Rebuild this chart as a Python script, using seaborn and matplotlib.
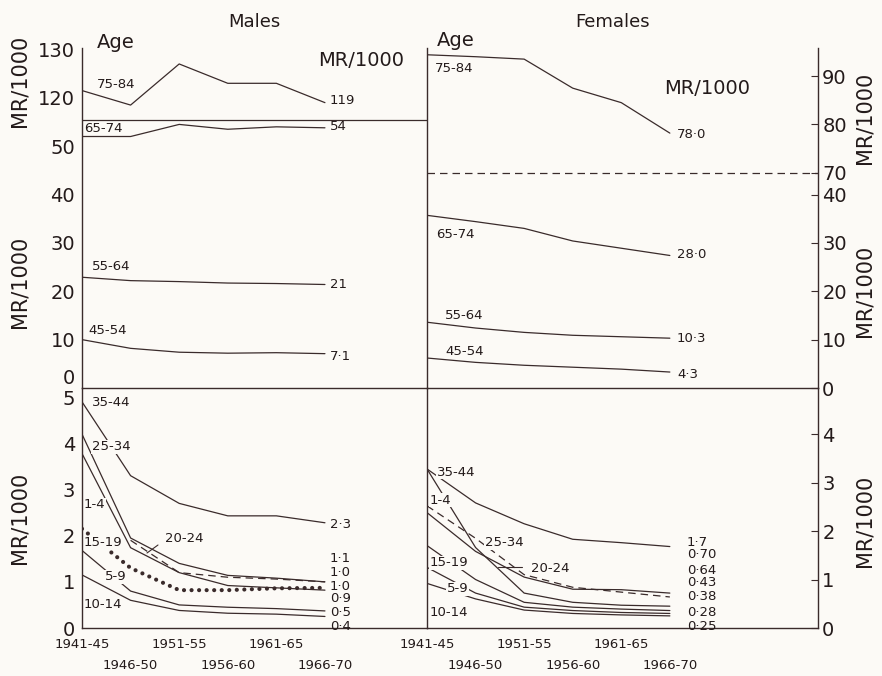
import numpy as np
import pandas as pd
import matplotlib.pyplot as plt
import seaborn as sns

# periods on the x axis
periods = ['1941-45', '1946-50', '1951-55', '1956-60', '1961-65', '1966-70']

# males, older ages (MR/1000)
m_75_84 = [121.5, 118.5, 127.0, 123.0, 123.0, 119.0]
m_65_74 = [52.0, 52.0, 54.5, 53.5, 54.0, 53.8]
m_55_64 = [22.9, 22.2, 22.0, 21.7, 21.6, 21.4]
m_45_54 = [10.0, 8.2, 7.4, 7.2, 7.3, 7.1]

# males, younger ages
m_35_44 = [4.9, 3.3, 2.7, 2.43, 2.43, 2.28]
m_25_34 = [4.2, 1.95, 1.4, 1.14, 1.08, 1.0]
m_20_24 = [np.nan, 1.9, 1.2, 1.1, 1.06, 1.0]
m_1_4 = [3.78, 1.74, 1.2, 0.92, 0.87, 0.82]
m_15_19 = [2.15, 1.3, 0.82, 0.82, 0.86, 0.87]
m_5_9 = [1.68, 0.8, 0.5, 0.45, 0.42, 0.37]
m_10_14 = [1.15, 0.6, 0.38, 0.32, 0.3, 0.25]

# females, older ages
f_75_84 = [94.4, 94.0, 93.5, 87.5, 84.5, 78.2]
f_65_74 = [35.7, 34.4, 33.0, 30.4, 28.9, 27.4]
f_55_64 = [13.6, 12.4, 11.5, 10.9, 10.6, 10.3]
f_45_54 = [6.2, 5.3, 4.7, 4.3, 3.9, 3.3]

# females, younger ages
f_35_44 = [3.28, 2.58, 2.15, 1.83, 1.76, 1.68]
f_25_34 = [2.38, 1.58, 1.05, 0.80, 0.79, 0.72]
f_20_24 = [2.52, 1.85, 1.10, 0.84, 0.74, 0.64]
f_1_4 = [3.28, 1.66, 0.72, 0.53, 0.47, 0.45]
f_15_19 = [1.70, 1.00, 0.53, 0.43, 0.39, 0.36]
f_5_9 = [1.25, 0.72, 0.43, 0.36, 0.32, 0.30]
f_10_14 = [0.92, 0.60, 0.37, 0.30, 0.27, 0.25]

# end-of-line values as printed
m_old_end = ['119', '54', '21', '7·1']
f_old_end = ['78·0', '28·0', '10·3', '4·3']
m_young_end = ['2·3', '1·1', '1·0', '1·0', '0·9', '0·5', '0·4']
f_young_end = ['1·7', '0·70', '0·64', '0·43', '0·38', '0·28', '0·25']

# broken scales in the upper panels
m_break, m_shift = 55.5, 60.0
f_break, f_shift = 44.5, 25.5

ink = '#3a2b2b'
bg = '#fcfaf6'

sns.set_style('white')
plt.rcParams['font.family'] = ['DejaVu Sans']
plt.rcParams['axes.edgecolor'] = ink
plt.rcParams['text.color'] = '#231a1a'
plt.rcParams['xtick.color'] = ink
plt.rcParams['ytick.color'] = ink
plt.rcParams['xtick.labelcolor'] = '#231a1a'
plt.rcParams['ytick.labelcolor'] = '#231a1a'

W, H = 882, 676


def frame(series, brk=None, shift=0.0):
    rows = []
    for age, vals in series:
        for t, v in enumerate(vals):
            rows.append({'age': age, 't': t, 'rate': v})
    df = pd.DataFrame(rows).dropna()
    df['y'] = df['rate']
    if brk is not None:
        df['y'] = np.where(df['rate'] > brk, df['rate'] - shift, df['rate'])
    return df


def draw(ax, df, styles={}):
    for age, grp in df.groupby('age', sort=False):
        sns.lineplot(data=grp, x='t', y='y', ax=ax, color=ink, lw=0.9)
        ln = ax.lines[-1]
        st = styles.get(age)
        if st == 'dash':
            ln.set_dashes([6, 4])
        elif st == 'dot':
            ln.set_linewidth(3.0)
            ln.set_dashes([0.01, 1.8])
            ln.set_dash_capstyle('round')
    ax.set_xlabel('')
    ax.set_ylabel('')


def box(x0, y0, x1, y1):
    return [x0 / W, 1 - y1 / H, (x1 - x0) / W, (y1 - y0) / H]


def put(x, y, s, size=9.5, ax=None, **kw):
    kw.setdefault('ha', 'left')
    kw.setdefault('va', 'center')
    if ax is None:
        fig.text(x / W, 1 - y / H, s, fontsize=size, **kw)
    else:
        # label sits on its line and breaks it; spines stay on top
        ax.text(x / W, 1 - y / H, s, fontsize=size, transform=fig.transFigure, zorder=2.4,
                bbox=dict(facecolor=bg, edgecolor='none', pad=0.4), **kw)


def leader(x0, y0, x1, y1):
    fig.add_artist(plt.Line2D([x0 / W, x1 / W], [1 - y0 / H, 1 - y1 / H], color=ink, lw=0.8))


fig = plt.figure(figsize=(8.82, 6.76), dpi=100, facecolor=bg)
ax_mu = fig.add_axes(box(82, 48, 427, 388))
ax_fu = fig.add_axes(box(427, 48, 818, 388))
ax_ml = fig.add_axes(box(82, 388, 427, 628))
ax_fl = fig.add_axes(box(427, 388, 818, 628))

for ax in (ax_mu, ax_fu, ax_ml, ax_fl):
    ax.set_facecolor('none')
    for sp in ax.spines.values():
        sp.set_linewidth(1.0)
        sp.set_color(ink)

# upper panels
mu = frame([('75-84', m_75_84), ('65-74', m_65_74), ('55-64', m_55_64), ('45-54', m_45_54)], m_break, m_shift)
fu = frame([('75-84', f_75_84), ('65-74', f_65_74), ('55-64', f_55_64), ('45-54', f_45_54)], f_break, f_shift)
draw(ax_mu, mu)
draw(ax_fu, fu)
ax_mu.axhline(m_break, color=ink, lw=0.9)
ax_fu.axhline(f_break, color=ink, lw=0.9, dashes=[6, 4])

ax_mu.set_xlim(0, 7.1)
ax_fu.set_xlim(0, 8.05)
ax_mu.set_ylim(0, 70.3)
ax_fu.set_ylim(0, 70.3)
ax_mu.set_xticks([])
ax_fu.set_xticks([])
ax_mu.set_yticks([0, 10, 20, 30, 40, 50, 120 - m_shift, 130 - m_shift],
                 labels=['0', '10', '20', '30', '40', '50', '120', '130'])
ax_fu.yaxis.tick_right()
ax_fu.set_yticks([0, 10, 20, 30, 40, 70 - f_shift, 80 - f_shift, 90 - f_shift],
                 labels=['0', '10', '20', '30', '40', '70', '80', '90'])
ax_mu.tick_params(axis='y', direction='inout', length=6, labelsize=14, pad=2)
ax_fu.tick_params(axis='y', direction='in', length=5, labelsize=14, pad=3)
ax_mu.get_yticklabels()[0].set_va('bottom')
for sp in ('top', 'right', 'bottom'):
    ax_mu.spines[sp].set_visible(False)
for sp in ('top', 'bottom'):
    ax_fu.spines[sp].set_visible(False)

# lower panels
ml = frame([('35-44', m_35_44), ('25-34', m_25_34), ('20-24', m_20_24), ('1-4', m_1_4),
            ('15-19', m_15_19), ('5-9', m_5_9), ('10-14', m_10_14)])
fl = frame([('35-44', f_35_44), ('25-34', f_25_34), ('20-24', f_20_24), ('1-4', f_1_4),
            ('15-19', f_15_19), ('5-9', f_5_9), ('10-14', f_10_14)])
draw(ax_ml, ml, {'20-24': 'dash', '15-19': 'dot'})
draw(ax_fl, fl, {'20-24': 'dash'})

ax_ml.set_xlim(0, 7.1)
ax_fl.set_xlim(0, 8.05)
ax_ml.set_ylim(0, 5.2)
ax_fl.set_ylim(0, 4.95)
ax_ml.set_yticks(range(6))
ax_fl.yaxis.tick_right()
ax_fl.set_yticks(range(5))
ax_ml.tick_params(axis='y', direction='inout', length=6, labelsize=14, pad=2)
ax_fl.tick_params(axis='y', direction='in', length=5, labelsize=14, pad=3)
ax_ml.spines['right'].set_visible(False)

for ax in (ax_ml, ax_fl):
    ax.set_xticks([0, 2, 4], labels=periods[0::2])
    ax.set_xticks([1, 3, 5], labels=periods[1::2], minor=True)
    ax.tick_params(axis='x', which='both', direction='in', length=5, labelsize=9.5)
    ax.tick_params(axis='x', which='major', pad=7)
    ax.tick_params(axis='x', which='minor', pad=22)

# titles and axis captions
put(254, 22, 'Males', size=13, ha='center')
put(613, 22, 'Females', size=13, ha='center')
put(97, 42, 'Age', size=14)
put(437, 40, 'Age', size=14)
put(318, 60, 'MR/1000', size=14)
put(664, 88, 'MR/1000', size=14)
for y in (81, 282, 518):
    put(20, y, 'MR/1000', size=15, rotation=90, ha='center')
for y in (118, 291, 521):
    put(865, y, 'MR/1000', size=15, rotation=90, ha='center')

# age labels, upper panels
for (x, y), s in zip([(97, 85), (84, 128), (92, 266), (88, 331)], ['75-84', '65-74', '55-64', '45-54']):
    put(x, y, s)
for (x, y), s in zip([(435, 68), (436, 235), (445, 316), (445, 351)], ['75-84', '65-74', '55-64', '45-54']):
    put(x, y, s)
for y, s in zip([101, 127, 285, 356], m_old_end):
    put(330, y, s)
for y, s in zip([135, 255, 339, 375], f_old_end):
    put(677, y, s)

# age labels, lower panels
for (x, y), s in zip([(92, 403), (92, 447), (84, 505), (84, 543), (165, 539), (105, 577), (84, 605)],
                     ['35-44', '25-34', '1-4', '15-19', '20-24', '5-9', '10-14']):
    put(x, y, s, ax=ax_ml)
leader(147, 553, 158, 545)
for (x, y), s in zip([(437, 472), (430, 500), (485, 543), (531, 568), (430, 563), (447, 589), (430, 613)],
                     ['35-44', '1-4', '25-34', '20-24', '15-19', '5-9', '10-14']):
    put(x, y, s, ax=ax_fl)
leader(498, 567, 522, 567)
for y, s in zip([525, 558, 573, 587, 599, 612, 626], m_young_end):
    put(330, y, s)
for y, s in zip([543, 555, 570, 583, 597, 612, 627], f_young_end):
    put(687, y, s)

fig.savefig('out.png', dpi=100, facecolor=bg)
